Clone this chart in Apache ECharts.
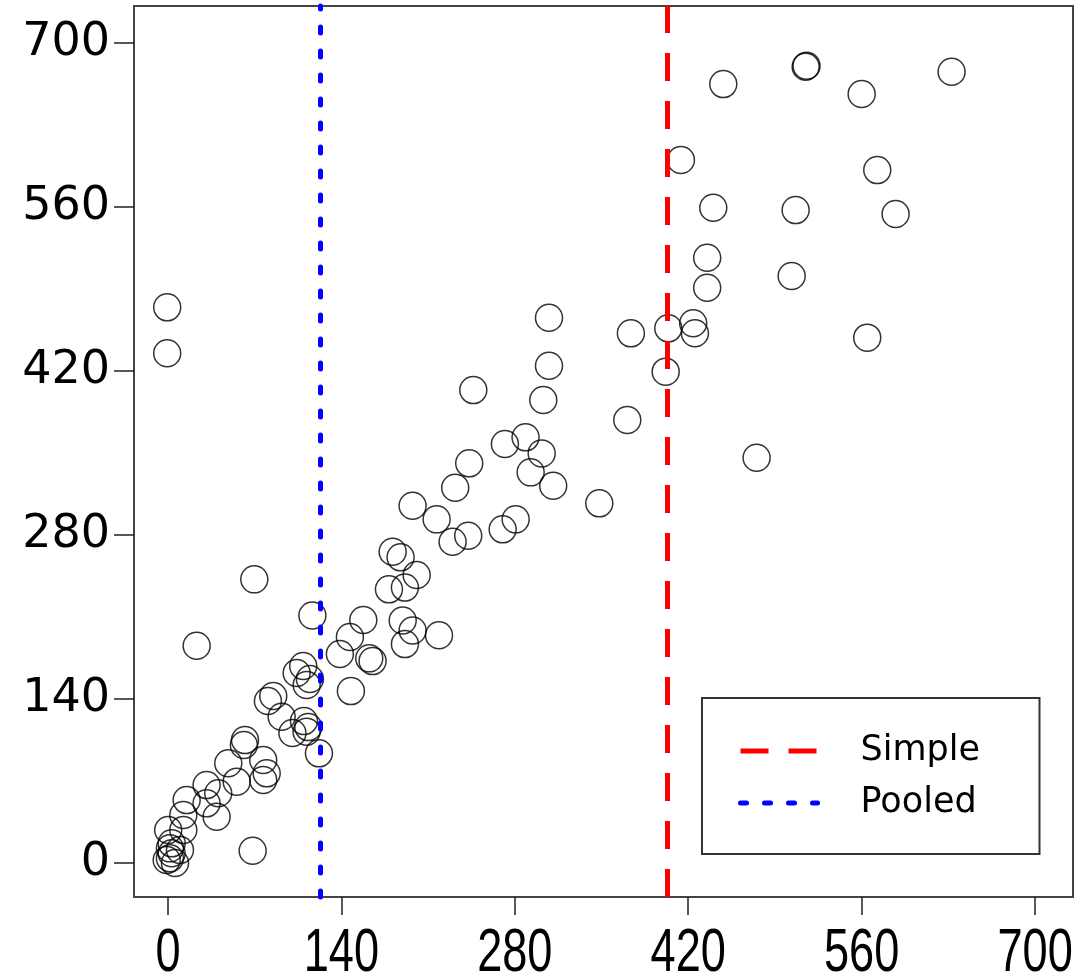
<!DOCTYPE html>
<html><head><meta charset="utf-8">
<script src="https://cdn.jsdelivr.net/npm/echarts@6/dist/echarts.min.js"></script>
<style>html,body{margin:0;padding:0;background:#fff;}#c{width:1086px;height:979px;}</style>
</head><body><div id="c"></div>
<script>
const xTicks = [0, 140, 280, 420, 560, 700];
const yTicks = [0, 140, 280, 420, 560, 700];
const seriesNames = ['Simple', 'Pooled'];
const simpleX = 402.8;
const pooledX = 122.7;
const xVals = [514.8,515.5,632.6,448.3,560.0,414.1,572.6,440.2,506.7,587.4,435.3,435.3,503.5,373.7,403.9,424.0,425.4,564.5,401.8,307.6,307.6,246.5,303.0,370.8,475.2,272.0,288.7,301.7,243.2,292.8,311.0,231.9,348.2,197.5,216.9,229.8,242.4,270.2,280.7,181.4,187.8,200.8,178.4,191.3,69.7,23.2,116.6,157.7,146.9,138.8,162.5,165.2,189.5,197.5,191.3,218.8,147.7,-0.6,-0.6,68.4,109.2,103.9,114.6,112.0,85.0,80.7,91.8,100.5,109.8,113.3,111.9,121.9,62.2,61.3,76.9,48.7,55.5,79.7,76.9,31.2,40.6,15.1,31.2,39.3,12.4,12.4,0.2,3.0,1.6,3.0,1.6,5.7,-1.0,9.7];
const yVals = [679.4,680.2,675.1,664.6,656.1,599.8,591.2,559.1,557.1,553.7,516.4,490.8,500.8,451.9,456.2,460.5,452.0,448.2,419.2,465.2,424.3,403.5,395.0,378.0,345.8,357.5,363.2,349.5,341.0,333.3,321.9,320.2,306.9,304.8,293.2,274.1,279.2,284.7,293.2,265.6,260.8,245.7,233.5,235.0,242.0,185.4,211.2,207.3,192.8,178.3,174.6,172.3,206.9,198.4,186.8,194.3,146.7,474.1,434.9,10.5,168.1,162.1,157.0,151.9,142.5,138.2,124.8,110.9,121.1,116.0,112.0,93.6,104.9,100.7,87.9,85.1,69.4,76.5,70.8,66.5,59.5,53.7,50.9,39.5,41.0,28.2,28.2,16.8,12.5,8.3,4.0,0.0,2.6,11.1];

const xMin = -27.4, xMax = 730.6, yMin = -29.0, yMax = 731.2;
const pts = xVals.map((x, i) => [x, yVals[i]]);
const chart = echarts.init(document.getElementById('c'), null, {renderer: 'canvas'});
const simpleStyle = {color: '#ff0000', width: 5, type: [28, 20], cap: 'butt'};
const pooledStyle = {color: '#0000ff', width: 5, type: [6, 18], cap: 'round'};
chart.setOption({
  animation: false,
  backgroundColor: '#fff',
  grid: {left: 134, top: 6, width: 939, height: 891, show: true, borderColor: '#444', borderWidth: 2, backgroundColor: 'transparent'},
  xAxis: {
    type: 'value', min: xMin, max: xMax,
    axisLine: {show: false, onZero: false}, splitLine: {show: false},
    axisTick: {show: true, length: 18, lineStyle: {color: '#222', width: 1.5}, customValues: xTicks},
    axisLabel: {show: false}
  },
  yAxis: {
    type: 'value', min: yMin, max: yMax,
    axisLine: {show: false, onZero: false}, splitLine: {show: false},
    axisTick: {show: true, length: 20, lineStyle: {color: '#222', width: 1.5}, customValues: yTicks},
    axisLabel: {customValues: yTicks, fontFamily: 'DejaVu Sans', fontSize: 46, color: '#000', margin: 24}
  },
  legend: {
    data: seriesNames, orient: 'vertical', left: 702, top: 698,
    padding: [33, 49, 31, 36], itemWidth: 77, itemHeight: 40, itemGap: 12,
    borderColor: '#333', borderWidth: 2, backgroundColor: '#fff',
    lineStyle: {width: 5}, itemStyle: {color: 'rgba(0,0,0,0)', borderWidth: 0, opacity: 0}, selectedMode: false,
    textStyle: {fontFamily: 'DejaVu Sans', fontSize: 35, color: '#000', padding: [0, 0, 0, 38], width: 130, lineHeight: 40}
  },
  series: [
    {type: 'scatter', name: 'points', data: pts, symbol: 'circle', symbolSize: 27,
     itemStyle: {color: 'rgba(0,0,0,0)', borderColor: '#000', borderWidth: 1.5}, z: 2, silent: true},
    {type: 'line', name: seriesNames[0], data: [], symbol: 'none', lineStyle: simpleStyle, itemStyle: {color: '#ff0000'}, z: 5,
     markLine: {silent: true, symbol: ['none', 'none'], label: {show: false}, lineStyle: simpleStyle, data: [{xAxis: simpleX}]}},
    {type: 'line', name: seriesNames[1], data: [], symbol: 'none', lineStyle: pooledStyle, itemStyle: {color: '#0000ff'}, z: 5,
     markLine: {silent: true, symbol: ['none', 'none'], label: {show: false}, lineStyle: pooledStyle, data: [{xAxis: pooledX}]}}
  ]
});
// x tick labels: tall, narrow text placed at the axis' own tick positions
const baseY = chart.convertToPixel({yAxisIndex: 0}, yMin);
chart.setOption({
  graphic: xTicks.map(v => ({
    type: 'text', silent: true,
    x: chart.convertToPixel({xAxisIndex: 0}, v), y: baseY + 57, scaleX: 0.74,
    style: {text: String(v), font: '61px "Liberation Sans", Arial, sans-serif', fill: '#000', align: 'center', verticalAlign: 'middle'}
  }))
});
</script></body></html>
